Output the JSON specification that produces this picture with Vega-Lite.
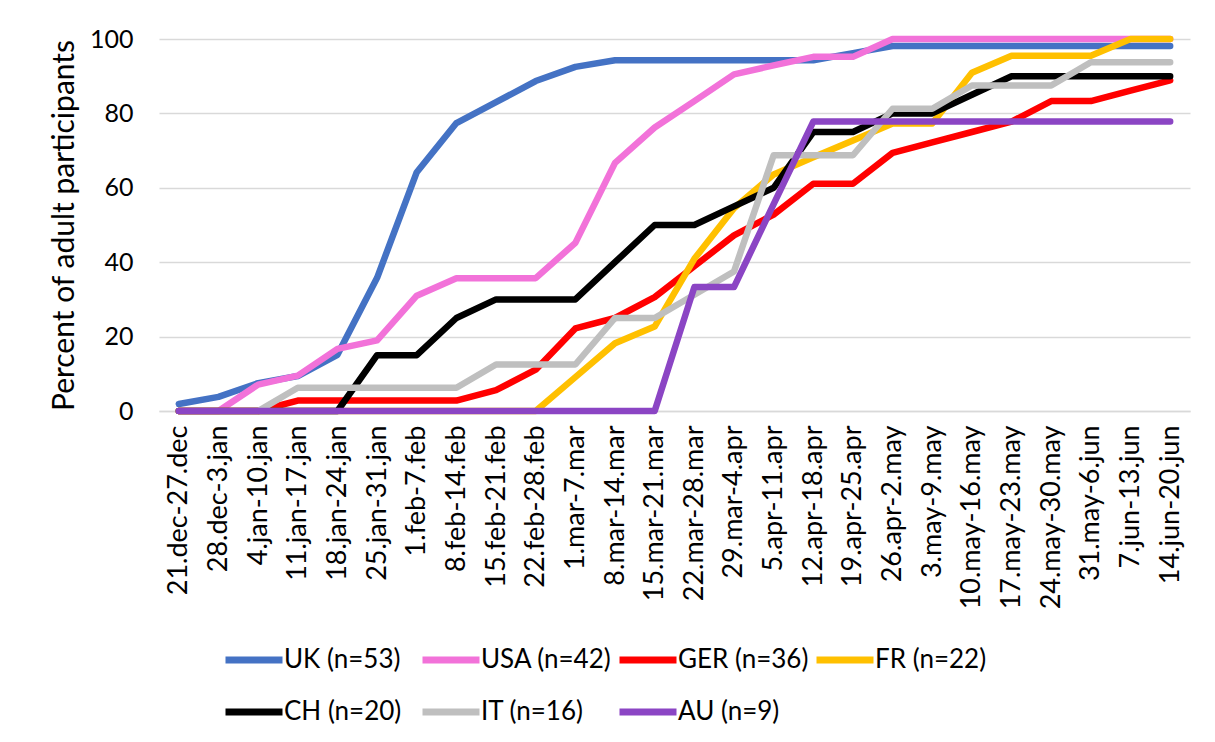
{
"$schema": "https://vega.github.io/schema/vega-lite/v6.json",
"width": 1031, "height": 372,
"autosize": {"type": "none"},
"padding": {"left": 159, "top": 39, "right": 25, "bottom": 331},
"background": "white",
"config": {"view": {"stroke": null}, "font": "Lato"},
"data": {"values": [
{"w":"21.dec-27.dec","c":"UK (n=53)","v":1.9},{"w":"28.dec-3.jan","c":"UK (n=53)","v":3.8},{"w":"4.jan-10.jan","c":"UK (n=53)","v":7.5},{"w":"11.jan-17.jan","c":"UK (n=53)","v":9.4},{"w":"18.jan-24.jan","c":"UK (n=53)","v":15.1},{"w":"25.jan-31.jan","c":"UK (n=53)","v":35.8},{"w":"1.feb-7.feb","c":"UK (n=53)","v":64.2},{"w":"8.feb-14.feb","c":"UK (n=53)","v":77.4},{"w":"15.feb-21.feb","c":"UK (n=53)","v":83.0},{"w":"22.feb-28.feb","c":"UK (n=53)","v":88.7},{"w":"1.mar-7.mar","c":"UK (n=53)","v":92.5},{"w":"8.mar-14.mar","c":"UK (n=53)","v":94.3},{"w":"15.mar-21.mar","c":"UK (n=53)","v":94.3},{"w":"22.mar-28.mar","c":"UK (n=53)","v":94.3},{"w":"29.mar-4.apr","c":"UK (n=53)","v":94.3},{"w":"5.apr-11.apr","c":"UK (n=53)","v":94.3},{"w":"12.apr-18.apr","c":"UK (n=53)","v":94.3},{"w":"19.apr-25.apr","c":"UK (n=53)","v":96.2},{"w":"26.apr-2.may","c":"UK (n=53)","v":98.1},{"w":"3.may-9.may","c":"UK (n=53)","v":98.1},{"w":"10.may-16.may","c":"UK (n=53)","v":98.1},{"w":"17.may-23.may","c":"UK (n=53)","v":98.1},{"w":"24.may-30.may","c":"UK (n=53)","v":98.1},{"w":"31.may-6.jun","c":"UK (n=53)","v":98.1},{"w":"7.jun-13.jun","c":"UK (n=53)","v":98.1},{"w":"14.jun-20.jun","c":"UK (n=53)","v":98.1},
{"w":"21.dec-27.dec","c":"USA (n=42)","v":0},{"w":"28.dec-3.jan","c":"USA (n=42)","v":0},{"w":"4.jan-10.jan","c":"USA (n=42)","v":7.1},{"w":"11.jan-17.jan","c":"USA (n=42)","v":9.5},{"w":"18.jan-24.jan","c":"USA (n=42)","v":16.7},{"w":"25.jan-31.jan","c":"USA (n=42)","v":19.0},{"w":"1.feb-7.feb","c":"USA (n=42)","v":31.0},{"w":"8.feb-14.feb","c":"USA (n=42)","v":35.7},{"w":"15.feb-21.feb","c":"USA (n=42)","v":35.7},{"w":"22.feb-28.feb","c":"USA (n=42)","v":35.7},{"w":"1.mar-7.mar","c":"USA (n=42)","v":45.2},{"w":"8.mar-14.mar","c":"USA (n=42)","v":66.7},{"w":"15.mar-21.mar","c":"USA (n=42)","v":76.2},{"w":"22.mar-28.mar","c":"USA (n=42)","v":83.3},{"w":"29.mar-4.apr","c":"USA (n=42)","v":90.5},{"w":"5.apr-11.apr","c":"USA (n=42)","v":92.9},{"w":"12.apr-18.apr","c":"USA (n=42)","v":95.2},{"w":"19.apr-25.apr","c":"USA (n=42)","v":95.2},{"w":"26.apr-2.may","c":"USA (n=42)","v":100},{"w":"3.may-9.may","c":"USA (n=42)","v":100},{"w":"10.may-16.may","c":"USA (n=42)","v":100},{"w":"17.may-23.may","c":"USA (n=42)","v":100},{"w":"24.may-30.may","c":"USA (n=42)","v":100},{"w":"31.may-6.jun","c":"USA (n=42)","v":100},{"w":"7.jun-13.jun","c":"USA (n=42)","v":100},{"w":"14.jun-20.jun","c":"USA (n=42)","v":100},
{"w":"21.dec-27.dec","c":"GER (n=36)","v":0},{"w":"28.dec-3.jan","c":"GER (n=36)","v":0},{"w":"4.jan-10.jan","c":"GER (n=36)","v":0},{"w":"11.jan-17.jan","c":"GER (n=36)","v":2.8},{"w":"18.jan-24.jan","c":"GER (n=36)","v":2.8},{"w":"25.jan-31.jan","c":"GER (n=36)","v":2.8},{"w":"1.feb-7.feb","c":"GER (n=36)","v":2.8},{"w":"8.feb-14.feb","c":"GER (n=36)","v":2.8},{"w":"15.feb-21.feb","c":"GER (n=36)","v":5.6},{"w":"22.feb-28.feb","c":"GER (n=36)","v":11.1},{"w":"1.mar-7.mar","c":"GER (n=36)","v":22.2},{"w":"8.mar-14.mar","c":"GER (n=36)","v":25.0},{"w":"15.mar-21.mar","c":"GER (n=36)","v":30.6},{"w":"22.mar-28.mar","c":"GER (n=36)","v":38.9},{"w":"29.mar-4.apr","c":"GER (n=36)","v":47.2},{"w":"5.apr-11.apr","c":"GER (n=36)","v":52.8},{"w":"12.apr-18.apr","c":"GER (n=36)","v":61.1},{"w":"19.apr-25.apr","c":"GER (n=36)","v":61.1},{"w":"26.apr-2.may","c":"GER (n=36)","v":69.4},{"w":"3.may-9.may","c":"GER (n=36)","v":72.2},{"w":"10.may-16.may","c":"GER (n=36)","v":75.0},{"w":"17.may-23.may","c":"GER (n=36)","v":77.8},{"w":"24.may-30.may","c":"GER (n=36)","v":83.3},{"w":"31.may-6.jun","c":"GER (n=36)","v":83.3},{"w":"7.jun-13.jun","c":"GER (n=36)","v":86.1},{"w":"14.jun-20.jun","c":"GER (n=36)","v":88.9},
{"w":"21.dec-27.dec","c":"FR (n=22)","v":0},{"w":"28.dec-3.jan","c":"FR (n=22)","v":0},{"w":"4.jan-10.jan","c":"FR (n=22)","v":0},{"w":"11.jan-17.jan","c":"FR (n=22)","v":0},{"w":"18.jan-24.jan","c":"FR (n=22)","v":0},{"w":"25.jan-31.jan","c":"FR (n=22)","v":0},{"w":"1.feb-7.feb","c":"FR (n=22)","v":0},{"w":"8.feb-14.feb","c":"FR (n=22)","v":0},{"w":"15.feb-21.feb","c":"FR (n=22)","v":0},{"w":"22.feb-28.feb","c":"FR (n=22)","v":0},{"w":"1.mar-7.mar","c":"FR (n=22)","v":9.1},{"w":"8.mar-14.mar","c":"FR (n=22)","v":18.2},{"w":"15.mar-21.mar","c":"FR (n=22)","v":22.7},{"w":"22.mar-28.mar","c":"FR (n=22)","v":40.9},{"w":"29.mar-4.apr","c":"FR (n=22)","v":54.5},{"w":"5.apr-11.apr","c":"FR (n=22)","v":63.6},{"w":"12.apr-18.apr","c":"FR (n=22)","v":68.2},{"w":"19.apr-25.apr","c":"FR (n=22)","v":72.7},{"w":"26.apr-2.may","c":"FR (n=22)","v":77.3},{"w":"3.may-9.may","c":"FR (n=22)","v":77.3},{"w":"10.may-16.may","c":"FR (n=22)","v":90.9},{"w":"17.may-23.may","c":"FR (n=22)","v":95.5},{"w":"24.may-30.may","c":"FR (n=22)","v":95.5},{"w":"31.may-6.jun","c":"FR (n=22)","v":95.5},{"w":"7.jun-13.jun","c":"FR (n=22)","v":100},{"w":"14.jun-20.jun","c":"FR (n=22)","v":100},
{"w":"21.dec-27.dec","c":"CH (n=20)","v":0},{"w":"28.dec-3.jan","c":"CH (n=20)","v":0},{"w":"4.jan-10.jan","c":"CH (n=20)","v":0},{"w":"11.jan-17.jan","c":"CH (n=20)","v":0},{"w":"18.jan-24.jan","c":"CH (n=20)","v":0},{"w":"25.jan-31.jan","c":"CH (n=20)","v":15},{"w":"1.feb-7.feb","c":"CH (n=20)","v":15},{"w":"8.feb-14.feb","c":"CH (n=20)","v":25},{"w":"15.feb-21.feb","c":"CH (n=20)","v":30},{"w":"22.feb-28.feb","c":"CH (n=20)","v":30},{"w":"1.mar-7.mar","c":"CH (n=20)","v":30},{"w":"8.mar-14.mar","c":"CH (n=20)","v":40},{"w":"15.mar-21.mar","c":"CH (n=20)","v":50},{"w":"22.mar-28.mar","c":"CH (n=20)","v":50},{"w":"29.mar-4.apr","c":"CH (n=20)","v":55},{"w":"5.apr-11.apr","c":"CH (n=20)","v":60},{"w":"12.apr-18.apr","c":"CH (n=20)","v":75},{"w":"19.apr-25.apr","c":"CH (n=20)","v":75},{"w":"26.apr-2.may","c":"CH (n=20)","v":80},{"w":"3.may-9.may","c":"CH (n=20)","v":80},{"w":"10.may-16.may","c":"CH (n=20)","v":85},{"w":"17.may-23.may","c":"CH (n=20)","v":90},{"w":"24.may-30.may","c":"CH (n=20)","v":90},{"w":"31.may-6.jun","c":"CH (n=20)","v":90},{"w":"7.jun-13.jun","c":"CH (n=20)","v":90},{"w":"14.jun-20.jun","c":"CH (n=20)","v":90},
{"w":"21.dec-27.dec","c":"IT (n=16)","v":0},{"w":"28.dec-3.jan","c":"IT (n=16)","v":0},{"w":"4.jan-10.jan","c":"IT (n=16)","v":0},{"w":"11.jan-17.jan","c":"IT (n=16)","v":6.25},{"w":"18.jan-24.jan","c":"IT (n=16)","v":6.25},{"w":"25.jan-31.jan","c":"IT (n=16)","v":6.25},{"w":"1.feb-7.feb","c":"IT (n=16)","v":6.25},{"w":"8.feb-14.feb","c":"IT (n=16)","v":6.25},{"w":"15.feb-21.feb","c":"IT (n=16)","v":12.5},{"w":"22.feb-28.feb","c":"IT (n=16)","v":12.5},{"w":"1.mar-7.mar","c":"IT (n=16)","v":12.5},{"w":"8.mar-14.mar","c":"IT (n=16)","v":25},{"w":"15.mar-21.mar","c":"IT (n=16)","v":25},{"w":"22.mar-28.mar","c":"IT (n=16)","v":31.25},{"w":"29.mar-4.apr","c":"IT (n=16)","v":37.5},{"w":"5.apr-11.apr","c":"IT (n=16)","v":68.75},{"w":"12.apr-18.apr","c":"IT (n=16)","v":68.75},{"w":"19.apr-25.apr","c":"IT (n=16)","v":68.75},{"w":"26.apr-2.may","c":"IT (n=16)","v":81.25},{"w":"3.may-9.may","c":"IT (n=16)","v":81.25},{"w":"10.may-16.may","c":"IT (n=16)","v":87.5},{"w":"17.may-23.may","c":"IT (n=16)","v":87.5},{"w":"24.may-30.may","c":"IT (n=16)","v":87.5},{"w":"31.may-6.jun","c":"IT (n=16)","v":93.75},{"w":"7.jun-13.jun","c":"IT (n=16)","v":93.75},{"w":"14.jun-20.jun","c":"IT (n=16)","v":93.75},
{"w":"21.dec-27.dec","c":"AU (n=9)","v":0},{"w":"28.dec-3.jan","c":"AU (n=9)","v":0},{"w":"4.jan-10.jan","c":"AU (n=9)","v":0},{"w":"11.jan-17.jan","c":"AU (n=9)","v":0},{"w":"18.jan-24.jan","c":"AU (n=9)","v":0},{"w":"25.jan-31.jan","c":"AU (n=9)","v":0},{"w":"1.feb-7.feb","c":"AU (n=9)","v":0},{"w":"8.feb-14.feb","c":"AU (n=9)","v":0},{"w":"15.feb-21.feb","c":"AU (n=9)","v":0},{"w":"22.feb-28.feb","c":"AU (n=9)","v":0},{"w":"1.mar-7.mar","c":"AU (n=9)","v":0},{"w":"8.mar-14.mar","c":"AU (n=9)","v":0},{"w":"15.mar-21.mar","c":"AU (n=9)","v":0},{"w":"22.mar-28.mar","c":"AU (n=9)","v":33.3},{"w":"29.mar-4.apr","c":"AU (n=9)","v":33.3},{"w":"5.apr-11.apr","c":"AU (n=9)","v":55.6},{"w":"12.apr-18.apr","c":"AU (n=9)","v":77.8},{"w":"19.apr-25.apr","c":"AU (n=9)","v":77.8},{"w":"26.apr-2.may","c":"AU (n=9)","v":77.8},{"w":"3.may-9.may","c":"AU (n=9)","v":77.8},{"w":"10.may-16.may","c":"AU (n=9)","v":77.8},{"w":"17.may-23.may","c":"AU (n=9)","v":77.8},{"w":"24.may-30.may","c":"AU (n=9)","v":77.8},{"w":"31.may-6.jun","c":"AU (n=9)","v":77.8},{"w":"7.jun-13.jun","c":"AU (n=9)","v":77.8},{"w":"14.jun-20.jun","c":"AU (n=9)","v":77.8}
]},
"mark": {"type": "line", "strokeWidth": 6.5, "strokeCap": "round", "strokeJoin": "round"},
"encoding": {
"x": {"field": "w", "type": "ordinal", "sort": null,
 "scale": {"padding": 0.5, "domain": ["21.dec-27.dec","28.dec-3.jan","4.jan-10.jan","11.jan-17.jan","18.jan-24.jan","25.jan-31.jan","1.feb-7.feb","8.feb-14.feb","15.feb-21.feb","22.feb-28.feb","1.mar-7.mar","8.mar-14.mar","15.mar-21.mar","22.mar-28.mar","29.mar-4.apr","5.apr-11.apr","12.apr-18.apr","19.apr-25.apr","26.apr-2.may","3.may-9.may","10.may-16.may","17.may-23.may","24.may-30.may","31.may-6.jun","7.jun-13.jun","14.jun-20.jun"]},
 "axis": {"title": null, "labelAngle": 270, "labelFontSize": 27, "labelColor": "#000000", "labelPadding": 14, "ticks": false, "domain": true, "domainColor": "#d9d9d9", "domainWidth": 1.5, "grid": false, "labelOverlap": false, "labelLimit": 0}},
"y": {"field": "v", "type": "quantitative", "scale": {"domain": [0, 100], "nice": false},
 "axis": {"values": [0, 20, 40, 60, 80, 100], "grid": true, "gridColor": "#d9d9d9", "gridWidth": 1.5, "domain": false, "ticks": false, "labelPadding": 26, "labelFontSize": 25, "labelColor": "#000000",
  "title": "Percent of adult participants", "titleFontSize": 30, "titleFontWeight": "normal", "titleColor": "#000000", "titleX": -95, "titleY": 186, "titleAngle": 270, "titleAlign": "center", "titleBaseline": "middle"}},
"color": {"field": "c", "type": "nominal", "sort": null,
 "scale": {"domain": ["UK (n=53)","USA (n=42)","GER (n=36)","FR (n=22)","CH (n=20)","IT (n=16)","AU (n=9)"],
  "range": ["#4472C4","#F272D9","#FF0000","#FFC000","#000000","#BFBFBF","#8B45C4"]},
 "legend": {"title": null, "orient": "none", "legendX": 63, "legendY": 589, "direction": "horizontal", "columns": 4, "gridAlign": "all",
  "symbolType": "stroke", "symbolSize": 3249, "symbolStrokeWidth": 7, "labelFontSize": 26, "labelColor": "#000000", "labelOffset": -2, "columnPadding": -7, "rowPadding": 6, "padding": 0, "labelLimit": 0}}
}
}
